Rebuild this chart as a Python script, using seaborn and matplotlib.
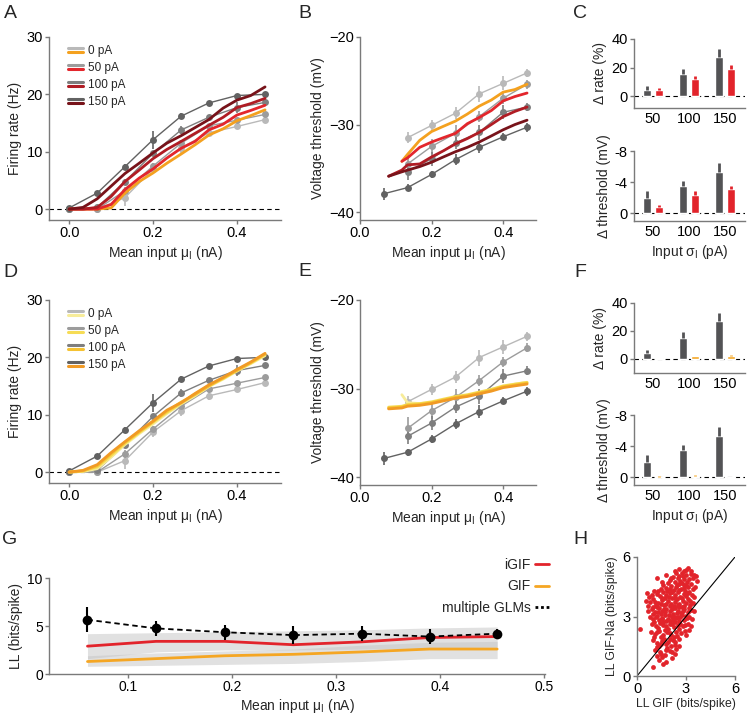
import numpy as np
import pandas as pd
import matplotlib
matplotlib.use('Agg')
import matplotlib.pyplot as plt
import seaborn as sns
from matplotlib.lines import Line2D
from matplotlib.legend_handler import HandlerBase

sns.set_theme(style='ticks')
plt.rcParams['font.family'] = ['Liberation Sans', 'DejaVu Sans']
plt.rcParams['mathtext.fontset'] = 'custom'
plt.rcParams['mathtext.rm'] = 'Liberation Sans'
plt.rcParams['mathtext.it'] = 'Liberation Sans:italic'

# ---------------- data ----------------
sigma_names = ['0 pA', '50 pA', '100 pA', '150 pA']

# recorded data (A, B, D, E)
mu_data = [0.0, 0.067, 0.133, 0.2, 0.267, 0.333, 0.4, 0.467]
rate_0 = [0.0, 0.0, 2.0, 7.0, 10.7, 13.3, 14.4, 15.6]
rate_50 = [0.0, 0.0, 3.2, 7.5, 11.5, 14.5, 15.5, 16.5]
rate_100 = [0.0, 0.3, 4.8, 9.7, 13.8, 16.0, 17.7, 18.6]
rate_150 = [0.2, 2.8, 7.4, 12.1, 16.2, 18.5, 19.8, 20.0]
rate_err_0 = [0.2, 0.2, 1.5, 0.8, 1.0, 0.7, 0.4, 0.4]
rate_err_50 = [0.2, 0.2, 0.6, 0.6, 0.6, 0.4, 0.4, 0.4]
rate_err_100 = [0.2, 0.2, 0.5, 0.5, 0.7, 0.4, 1.0, 0.4]
rate_err_150 = [0.2, 0.3, 0.4, 1.6, 0.5, 0.3, 0.3, 0.3]

thr_0 = [np.nan, np.nan, -31.5, -30.1, -28.7, -26.5, -25.3, -24.1]
thr_50 = [np.nan, np.nan, -34.5, -32.5, -31.0, -29.1, -27.0, -25.4]
thr_100 = [np.nan, np.nan, -35.4, -33.9, -32.1, -30.9, -28.6, -28.0]
thr_150 = [np.nan, -37.9, -37.2, -35.7, -34.0, -32.6, -31.4, -30.3]
thr_err_0 = [0, 0, 0.6, 0.6, 0.7, 0.9, 0.8, 0.5]
thr_err_50 = [0, 0, 1.3, 0.9, 0.9, 0.6, 0.6, 0.5]
thr_err_100 = [0, 0, 0.9, 0.8, 0.7, 0.9, 0.8, 0.5]
thr_err_150 = [0, 0.7, 0.4, 0.4, 0.6, 0.7, 0.4, 0.5]

# iGIF / GIF model curves
mu_model = [0.0, 0.033, 0.067, 0.1, 0.133, 0.167, 0.2, 0.233, 0.267, 0.3, 0.333, 0.367, 0.4, 0.433, 0.467]
igif_rate_0 = [0, 0, 0, 0.2, 2.8, 4.8, 6.3, 8.0, 9.6, 11.2, 12.9, 14.0, 15.4, 16.3, 17.3]
igif_rate_50 = [0, 0, 0, 0.8, 3.4, 5.4, 7.0, 8.9, 10.6, 11.8, 13.8, 14.8, 16.4, 17.2, 18.1]
igif_rate_100 = [0, 0, 0.3, 2.2, 4.8, 6.8, 8.8, 10.4, 11.8, 13.2, 14.6, 16.0, 17.7, 18.4, 19.3]
igif_rate_150 = [0, 0.3, 1.8, 4.0, 6.2, 8.0, 9.8, 11.5, 12.8, 14.2, 15.6, 17.6, 19.0, 19.8, 21.3]
gif_rate_0 = [0, 0.1, 0.6, 2.6, 4.8, 6.7, 8.4, 10.2, 11.9, 13.3, 14.9, 16.2, 17.6, 18.9, 20.3]
gif_rate_50 = [0, 0.2, 0.9, 2.9, 5.0, 6.9, 8.7, 10.4, 12.0, 13.6, 15.1, 16.3, 17.8, 19.0, 20.5]
gif_rate_100 = [0, 0.2, 1.1, 3.2, 5.2, 7.0, 8.8, 10.6, 12.2, 13.5, 15.0, 16.4, 17.7, 19.1, 20.6]
gif_rate_150 = [0, 0.3, 1.3, 3.4, 5.3, 7.2, 8.9, 10.8, 12.1, 13.7, 15.2, 16.5, 17.9, 19.2, 20.7]

mu_model_thr = [0.08, 0.117, 0.133, 0.167, 0.2, 0.233, 0.267, 0.3, 0.333, 0.367, 0.4, 0.433, 0.467]
igif_thr_0 = [np.nan, -34.2, -33.4, -31.8, -30.8, -30.2, -29.6, -28.8, -27.9, -27.2, -26.3, -26.0, -25.4]
igif_thr_50 = [np.nan, -34.2, -33.8, -32.6, -32.0, -31.5, -31.0, -29.9, -29.2, -28.4, -27.3, -26.8, -26.4]
igif_thr_100 = [-35.9, -35.2, -34.6, -34.5, -33.7, -33.0, -32.2, -31.6, -30.9, -30.0, -29.1, -28.5, -28.0]
igif_thr_150 = [-35.9, -35.4, -35.2, -34.8, -34.3, -33.7, -33.1, -32.6, -32.0, -31.3, -30.6, -30.0, -29.5]
gif_thr_0 = [np.nan, -30.7, -31.6, -31.7, -31.6, -31.3, -31.0, -30.8, -30.5, -30.1, -29.8, -29.5, -29.3]
gif_thr_50 = [-32.1, -32.0, -31.8, -31.7, -31.5, -31.2, -30.9, -30.7, -30.4, -30.1, -29.7, -29.5, -29.3]
gif_thr_100 = [-32.2, -32.1, -31.9, -31.8, -31.6, -31.3, -31.0, -30.8, -30.5, -30.2, -29.8, -29.6, -29.4]
gif_thr_150 = [-32.3, -32.2, -32.0, -31.9, -31.7, -31.4, -31.1, -30.9, -30.6, -30.3, -29.9, -29.7, -29.5]

# bar panels (C, F)
sigma_in = ['50', '100', '150']
d_rate_data = [4.4, 15.1, 27.2]
d_rate_data_err = [2.3, 4.0, 5.8]
d_rate_igif = [4.2, 11.6, 19.1]
d_rate_igif_err = [1.5, 2.1, 3.0]
d_rate_gif = [0.4, 2.0, 2.2]
d_rate_gif_err = [0.3, 0.5, 0.9]
d_thr_data = [-2.0, -3.5, -5.35]
d_thr_data_err = [0.85, 0.65, 1.15]
d_thr_igif = [-0.77, -2.35, -3.08]
d_thr_igif_err = [0.3, 0.43, 0.42]
d_thr_gif = [-0.06, -0.15, 0.1]
d_thr_gif_err = [0.05, 0.08, 0.08]

# G
mu_ll = [0.061, 0.127, 0.193, 0.259, 0.325, 0.39, 0.455]
ll_glm = [5.65, 4.75, 4.35, 4.05, 4.2, 3.9, 4.2]
ll_glm_err = [1.3, 0.8, 0.8, 0.9, 0.8, 0.8, 0.5]
ll_igif = [2.9, 3.4, 3.4, 3.05, 3.35, 3.8, 3.9]
ll_igif_lo = [1.6, 2.3, 2.5, 2.5, 2.6, 2.7, 2.8]
ll_igif_hi = [4.2, 4.3, 4.4, 4.5, 4.6, 4.8, 4.9]
ll_gif = [1.3, 1.6, 1.9, 2.05, 2.3, 2.6, 2.6]
ll_gif_lo = [0.8, 0.9, 1.0, 1.1, 1.3, 1.6, 1.6]
ll_gif_hi = [1.9, 2.2, 2.4, 2.6, 3.0, 3.3, 3.4]

# H scatter (LL GIF, LL GIF-Na), one value per cell
h_gif = [2.6, 2.9, 3.1, 3.3, 2.75, 3.5, 2.4,
         2.2, 2.5, 2.8, 3.0, 3.2, 3.4, 3.6, 1.2, 2.0, 2.65, 3.05, 2.35,
         1.6, 1.9, 2.1, 2.4, 2.55, 2.85, 3.1, 3.3, 3.45, 1.75, 2.0, 2.25, 2.7, 2.95, 3.2, 1.45,
         0.6, 0.9, 1.2, 1.4, 1.6, 1.8, 2.05, 2.3, 2.5, 2.65, 2.85, 3.0, 3.35, 1.05, 2.15, 2.45, 1.7, 3.15, 3.5,
         0.55, 0.8, 1.0, 1.3, 1.5, 1.9, 2.1, 2.35, 2.6, 2.8, 3.0, 3.25, 1.15, 1.65, 2.0, 2.75, 3.4, 0.7,
         0.65, 0.9, 1.1, 1.35, 1.55, 1.8, 2.05, 2.3, 2.5, 2.7, 2.9, 3.1, 3.3, 1.2, 2.2, 2.6, 1.45, 3.0,
         0.8, 1.0, 1.25, 1.5, 1.7, 1.9, 2.15, 2.4, 2.65, 2.85, 3.2, 1.35, 2.0, 2.55, 1.6,
         0.9, 1.15, 1.4, 1.75, 2.0, 2.25, 2.5, 2.8, 3.1, 3.3, 1.3, 1.9, 2.35, 0.2,
         0.85, 1.1, 1.35, 1.6, 1.85, 2.1, 2.4, 2.7, 2.95, 1.45, 2.25, 3.0,
         0.95, 1.2, 1.5, 1.75, 2.0, 2.3, 1.35, 2.1, 2.55, 1.85, 2.6,
         1.1, 1.4, 1.7, 2.0, 2.3, 1.55, 1.25, 2.4,
         1.0, 1.35, 1.8, 2.15, 1.6,
         1.8, 2.3, 3.0, 2.55, 3.3, 2.1, 2.9, 3.7, 1.5, 2.45, 2.75, 3.0, 3.55, 1.85, 2.15, 2.6,
         2.9, 3.1, 1.3, 0.75, 1.5, 1.95, 2.35, 2.75, 3.25, 1.1, 1.45, 1.8, 2.25, 2.5, 2.9, 3.2,
         0.95, 1.65, 2.15, 2.45, 2.8, 3.5, 1.0, 1.3, 1.7, 1.95, 2.3, 2.75, 3.05, 1.15, 1.55, 1.8,
         2.2, 2.5, 3.35, 1.05, 1.6, 2.15, 2.65, 2.95, 1.25, 1.7, 2.0, 2.55, 3.2, 1.05, 1.65, 2.2,
         2.45, 1.45, 1.9, 2.35, 1.2, 1.75, 2.15, 1.45]
h_gifna = [5.4, 5.3, 5.45, 5.3, 5.2, 5.1, 5.2,
           5.0, 4.95, 5.05, 5.1, 4.9, 4.95, 5.05, 4.95, 4.85, 4.8, 4.75, 4.75,
           4.6, 4.7, 4.55, 4.5, 4.65, 4.6, 4.5, 4.65, 4.4, 4.45, 4.4, 4.35, 4.4, 4.3, 4.25, 4.4,
           4.2, 4.1, 4.15, 4.05, 4.25, 4.1, 4.2, 4.1, 4.25, 4.0, 4.15, 4.05, 4.1, 4.3, 3.95, 3.9, 3.95, 3.9, 4.0,
           3.8, 3.75, 3.9, 3.7, 3.85, 3.8, 3.65, 3.75, 3.65, 3.8, 3.7, 3.6, 3.6, 3.6, 3.55, 3.5, 3.7, 3.55,
           3.3, 3.4, 3.25, 3.45, 3.3, 3.4, 3.3, 3.45, 3.3, 3.2, 3.4, 3.25, 3.35, 3.5, 3.15, 3.5, 3.15, 3.05,
           3.0, 2.85, 3.05, 2.9, 3.1, 2.85, 3.0, 2.9, 3.0, 2.8, 2.95, 2.8, 2.75, 2.75, 2.7,
           2.6, 2.5, 2.65, 2.5, 2.6, 2.45, 2.55, 2.5, 2.6, 2.5, 2.4, 2.35, 2.7, 2.35,
           2.2, 2.1, 2.25, 2.05, 2.2, 2.05, 2.2, 2.15, 2.25, 1.95, 1.95, 2.05,
           1.8, 1.65, 1.75, 1.6, 1.85, 1.7, 1.5, 1.5, 1.85, 1.4, 1.5,
           1.3, 1.2, 1.05, 1.25, 1.1, 0.95, 1.0, 1.35,
           0.45, 0.8, 0.7, 0.9, 0.6,
           5.1, 5.3, 5.35, 5.05, 5.15, 4.95, 4.9, 4.8, 4.75, 4.6, 4.7, 4.6, 4.5, 4.3, 4.25, 4.35,
           4.45, 4.2, 4.3, 4.0, 3.95, 4.0, 3.95, 3.95, 3.8, 3.75, 3.65, 3.65, 3.55, 3.6, 3.55, 3.45,
           3.5, 3.4, 3.4, 3.2, 3.3, 3.3, 3.15, 3.25, 3.25, 3.1, 3.0, 3.1, 2.9, 2.95, 2.85, 2.75,
           2.8, 2.95, 2.85, 2.7, 2.55, 2.6, 2.6, 2.55, 2.2, 2.3, 2.15, 2.35, 2.3, 1.95, 1.85, 1.8,
           2.0, 1.6, 1.7, 1.55, 1.45, 1.3, 1.2, 1.1]

# ---------------- styling ----------------
grey_pal = ['#b9b9b9', '#9c9c9c', '#7e7e7e', '#626262']
red_pal = ['#f4a11f', '#e3262c', '#b01c24', '#78131a']
yellow_pal = ['#f7ec9a', '#f6dc55', '#f5c232', '#f19a25']
bar_grey = '#535355'
red = '#e2242b'
orange = '#f5a623'
spine_c = '#7a7a7a'
mu_label = 'Mean input μ$_\\mathrm{I}$ (nA)'
sig_label = 'Input σ$_\\mathrm{I}$ (pA)'
TICK = 10.5
LAB = 10

W, H = 747, 716
fig = plt.figure(figsize=(W / 100, H / 100), dpi=100)


def px_axes(left, top, right, bottom):
    return fig.add_axes([left / W, 1 - bottom / H, (right - left) / W, (bottom - top) / H])


def style(ax, tick=TICK):
    sns.despine(ax=ax)
    for s in ['left', 'bottom']:
        ax.spines[s].set_color(spine_c)
        ax.spines[s].set_linewidth(1.0)
    ax.tick_params(colors=spine_c, labelcolor='black', labelsize=tick, length=3, width=1.0, pad=1.5)
    ax.xaxis.labelpad = 3
    ax.yaxis.labelpad = 3


class PairHandler(HandlerBase):
    def create_artists(self, legend, orig_handle, xdescent, ydescent, width, height, fontsize, trans):
        top_c, bot_c = orig_handle
        y0 = height / 2 - ydescent
        l1 = Line2D([-xdescent, width - xdescent], [y0 + 1.4, y0 + 1.4], color=top_c, lw=2.2, transform=trans)
        l2 = Line2D([-xdescent, width - xdescent], [y0 - 1.4, y0 - 1.4], color=bot_c, lw=2.2, transform=trans)
        return [l1, l2]


def long_df(x, series, value):
    frames = []
    for name, vals in zip(sigma_names, series):
        frames.append(pd.DataFrame({'mu': x, value: vals, 'sigma': name}))
    return pd.concat(frames, ignore_index=True).dropna()


def draw_data(ax, ycol, series, errs):
    df = long_df(mu_data, series, ycol)
    for name, vals, err, c in zip(sigma_names, series, errs, grey_pal):
        v = np.array(vals, dtype=float)
        ok = ~np.isnan(v)
        ax.vlines(np.array(mu_data)[ok], (v - np.array(err))[ok], (v + np.array(err))[ok], color=c, lw=1.2)
    sns.lineplot(data=df, x='mu', y=ycol, hue='sigma', palette=grey_pal, marker='o', markersize=5,
                 markeredgewidth=0, linewidth=1.0, legend=False, ax=ax)


def pair_legend(ax, model_pal):
    handles = [(g, m) for g, m in zip(grey_pal, model_pal)]
    ax.legend(handles, sigma_names, handler_map={tuple: PairHandler()}, loc='upper left',
              bbox_to_anchor=(0.082, 0.955), frameon=False, fontsize=8.5, handlelength=1.3,
              handletextpad=0.35, labelspacing=0.42, borderpad=0, borderaxespad=0)


def rate_axes(ax, model_series, model_pal):
    ax.axhline(0, color='black', lw=0.8, ls=(0, (4, 3)))
    draw_data(ax, 'rate', [rate_0, rate_50, rate_100, rate_150],
              [rate_err_0, rate_err_50, rate_err_100, rate_err_150])
    sns.lineplot(data=long_df(mu_model, model_series, 'rate'), x='mu', y='rate', hue='sigma',
                 palette=model_pal, linewidth=2.0, legend=False, ax=ax)
    ax.set_xlim(-0.048, 0.505)
    ax.set_ylim(-1.9, 30)
    ax.set_xticks([0, 0.2, 0.4])
    ax.set_xticklabels(['0.0', '0.2', '0.4'])
    ax.set_yticks([0, 10, 20, 30])
    ax.set_xlabel(mu_label, fontsize=LAB)
    ax.set_ylabel('Firing rate (Hz)', fontsize=LAB)
    style(ax)
    pair_legend(ax, model_pal)


def thr_axes(ax, model_series, model_pal):
    draw_data(ax, 'thr', [thr_0, thr_50, thr_100, thr_150],
              [thr_err_0, thr_err_50, thr_err_100, thr_err_150])
    sns.lineplot(data=long_df(mu_model_thr, model_series, 'thr'), x='mu', y='thr', hue='sigma',
                 palette=model_pal, linewidth=2.0, legend=False, ax=ax)
    ax.set_xlim(0, 0.492)
    ax.set_ylim(-40.9, -20)
    ax.set_xticks([0, 0.2, 0.4])
    ax.set_xticklabels(['0.0', '0.2', '0.4'])
    ax.set_yticks([-40, -30, -20])
    ax.set_xlabel(mu_label, fontsize=LAB)
    ax.set_ylabel('Voltage threshold (mV)', fontsize=LAB)
    style(ax)


def bar_axes(ax, data_v, data_e, mod_v, mod_e, mod_c, inverted):
    df = pd.DataFrame({'sig': sigma_in * 2, 'val': data_v + mod_v,
                       'grp': ['data'] * 3 + ['model'] * 3})
    errs = data_e + mod_e
    ax.axhline(0, color='black', lw=0.8, ls=(0, (4, 3)), zorder=0)
    sns.barplot(data=df, x='sig', y='val', hue='grp', palette=[bar_grey, mod_c], width=0.66, gap=0.3,
                errorbar=None, legend=False, saturation=1, ax=ax)
    for p, e in zip(ax.patches, errs):
        cx = p.get_x() + p.get_width() / 2
        h = p.get_height()
        sgn = -1 if h < 0 else 1
        ax.vlines(cx, h, h + sgn * e, color=p.get_facecolor(), lw=2.0)
    ax.set_xlim(-0.52, 2.55)
    if inverted:
        ax.set_ylim(1.03, -8)
        ax.set_yticks([0, -4, -8])
        ax.set_yticklabels(['0', '-4', '-8'])
        ax.set_ylabel('Δ threshold (mV)', fontsize=LAB)
        ax.set_xlabel(sig_label, fontsize=LAB)
    else:
        ax.set_ylim(-8.4, 40)
        ax.set_yticks([0, 20, 40])
        ax.set_ylabel('Δ rate (%)', fontsize=LAB)
        ax.set_xlabel('')
    style(ax, 10.5)
    ax.tick_params(axis='x', length=0, pad=3)


# ---- A, B, C ----
axA = px_axes(49, 37, 281, 220)
rate_axes(axA, [igif_rate_0, igif_rate_50, igif_rate_100, igif_rate_150], red_pal)
axB = px_axes(360, 37, 536, 220)
thr_axes(axB, [igif_thr_0, igif_thr_50, igif_thr_100, igif_thr_150], red_pal)
axC1 = px_axes(634, 39, 745, 108)
bar_axes(axC1, d_rate_data, d_rate_data_err, d_rate_igif, d_rate_igif_err, red, False)
axC2 = px_axes(634, 151, 745, 221)
bar_axes(axC2, d_thr_data, d_thr_data_err, d_thr_igif, d_thr_igif_err, red, True)

# ---- D, E, F ----
axD = px_axes(49, 300, 281, 483)
rate_axes(axD, [gif_rate_0, gif_rate_50, gif_rate_100, gif_rate_150], yellow_pal)
axE = px_axes(360, 300, 536, 485)
thr_axes(axE, [gif_thr_0, gif_thr_50, gif_thr_100, gif_thr_150], yellow_pal)
axF1 = px_axes(634, 303, 745, 373)
bar_axes(axF1, d_rate_data, d_rate_data_err, d_rate_gif, d_rate_gif_err, orange, False)
axF1.set_ylim(-10, 40)
axF2 = px_axes(634, 415, 745, 485)
bar_axes(axF2, d_thr_data, d_thr_data_err, d_thr_gif, d_thr_gif_err, orange, True)

# ---- G ----
axG = px_axes(49, 578, 545, 674)
axG.fill_between(mu_ll, ll_igif_lo, ll_igif_hi, color='#c4c4c4', alpha=0.5, lw=0)
axG.fill_between(mu_ll, ll_gif_lo, ll_gif_hi, color='#c4c4c4', alpha=0.5, lw=0)
sns.lineplot(x=mu_ll, y=ll_igif, color=red, linewidth=2.0, ax=axG)
sns.lineplot(x=mu_ll, y=ll_gif, color=orange, linewidth=2.0, ax=axG)
axG.errorbar(mu_ll, ll_glm, yerr=ll_glm_err, fmt='none', ecolor='black', elinewidth=1.5)
sns.lineplot(x=mu_ll, y=ll_glm, color='black', linewidth=1.3, linestyle=(0, (3, 2)), marker='o',
             markersize=7, markeredgewidth=0, ax=axG)
axG.set_xlim(0.024, 0.501)
axG.set_ylim(0, 10)
axG.set_xticks([0.1, 0.2, 0.3, 0.4, 0.5])
axG.set_yticks([0, 5, 10])
axG.set_xlabel(mu_label, fontsize=LAB)
axG.set_ylabel('LL (bits/spike)', fontsize=LAB)
style(axG, 10)
axG.xaxis.labelpad = 2
hG = [Line2D([], [], color=red, lw=2), Line2D([], [], color=orange, lw=2),
      Line2D([], [], color='black', lw=2, ls=(0, (1, 1)))]
axG.legend(hG, ['iGIF', 'GIF', 'multiple GLMs'], loc='upper right', bbox_to_anchor=(1.008, 1.21),
           frameon=False, markerfirst=False, fontsize=10, handlelength=1.0, handletextpad=0.3,
           labelspacing=0.55, borderpad=0, borderaxespad=0)

# ---- H ----
axH = px_axes(637, 557, 735, 676)
axH.axline((0, 0), slope=1, color='black', lw=0.8)
sns.scatterplot(x=h_gif, y=h_gifna, color=red, s=12, linewidth=0, ax=axH)
axH.set_xlim(0, 6)
axH.set_ylim(0, 6)
axH.set_xticks([0, 3, 6])
axH.set_yticks([0, 3, 6])
axH.set_xlabel('LL GIF (bits/spike)', fontsize=8.8)
axH.set_ylabel('LL GIF-Na (bits/spike)', fontsize=8.8)
style(axH)
axH.xaxis.labelpad = 1

# panel letters
for letter, x, y in [('A', 10, 14), ('B', 305, 14), ('C', 580, 14), ('D', 10, 272),
                     ('E', 305, 271), ('F', 580, 272), ('G', 10, 539), ('H', 580, 539)]:
    fig.text(x / W, 1 - y / H, letter, fontsize=14, ha='center', va='center')

fig.savefig('out.png', dpi=100)
